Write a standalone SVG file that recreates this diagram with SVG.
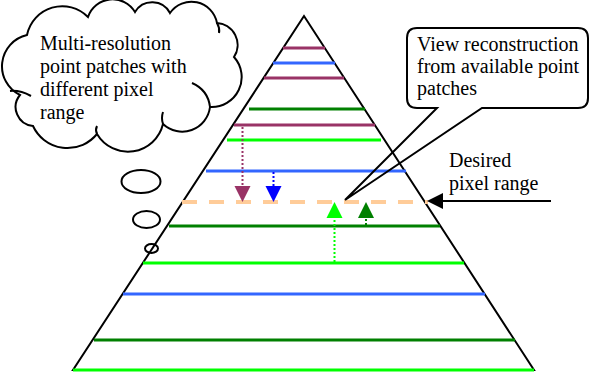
<svg xmlns="http://www.w3.org/2000/svg" width="589" height="375" viewBox="0 0 589 375">
<defs>
<style>
.t{font-family:'Liberation Serif','Times New Roman',serif;font-size:20px;fill:#000}
.o{fill:none;stroke:#000;stroke-width:2}
.lv{stroke-width:3;fill:none}
.m{stroke:#993366}.b{stroke:#3366ff}.g{stroke:#00ff00}.dg{stroke:#008000}
.dot{stroke-width:2;stroke-dasharray:2 2;fill:none}
</style>
</defs>
<rect width="589" height="375" fill="#fff"/>
<g id="pyramid">
<polygon class="o" points="304,16 73,370 534,370"/>
<g id="levels">
<line class="lv m" x1="283" y1="48" x2="325" y2="48"/>
<line class="lv b" x1="273" y1="63" x2="335" y2="63"/>
<line class="lv m" x1="264" y1="78" x2="344" y2="78"/>
<line class="lv dg" x1="249" y1="109" x2="365" y2="109"/>
<line class="lv m" x1="234" y1="125" x2="375" y2="125"/>
<line class="lv g" x1="227" y1="140" x2="381" y2="140"/>
<line class="lv b" x1="206" y1="171" x2="406" y2="171"/>
<line class="lv dg" x1="169" y1="226" x2="440" y2="226"/>
<line class="lv g" x1="143" y1="263" x2="464" y2="263"/>
<line class="lv b" x1="123" y1="294" x2="485" y2="294"/>
<line class="lv dg" x1="94" y1="340" x2="515" y2="340"/>
<line class="lv g" x1="73" y1="370" x2="534" y2="370"/>
</g>
<line id="desired-range" x1="182" y1="202" x2="428" y2="202" stroke="#ffcc99" stroke-width="4" stroke-dasharray="15 12"/>
</g>
<g id="connectors">
<line class="dot m" x1="242.5" y1="127" x2="242.5" y2="187"/>
<polygon fill="#993366" points="234.5,186 250.5,186 242.5,202"/>
<line class="dot" stroke="#0000ff" x1="273.5" y1="172" x2="273.5" y2="187"/>
<polygon fill="#0000ff" points="265.5,186 281.5,186 273.5,202"/>
<line class="dot g" x1="334.5" y1="262" x2="334.5" y2="216"/>
<polygon fill="#00ff00" points="326.5,218 342.5,218 334.5,202"/>
<line class="dot dg" x1="366" y1="225" x2="366" y2="216"/>
<polygon fill="#008000" points="358,218 374,218 366,202"/>
<line class="o" x1="551" y1="201" x2="442" y2="201"/>
<polygon fill="#000" points="427,201 443,193 443,209"/>
</g>
<g id="cloud">
<path class="o" d="M20,95 A32,32 0 0 1 27,35 A36,36 0 0 1 88,17 A26,26 0 0 1 135,12 A20,20 0 0 1 170,13 A26,26 0 0 1 217,23 A22,22 0 0 1 234,57 A30,30 0 0 1 210,107 A28,28 0 0 1 163,124 A36,36 0 0 1 97,134 A38,38 0 0 1 33,126 A19,19 0 0 1 20,95 Z"/>
<path class="o" d="M10,91 Q20,90 31,96"/>
<path class="o" d="M192,83 Q208,90 210,107"/>
<path class="o" d="M163,124 Q161,118 163,112"/>
<path class="o" d="M97,134 Q95,130 97,126"/>
<path class="o" d="M217,23 Q220,28 219,33"/>
<g font-family="Liberation Serif, serif" font-size="20">
<text class="t" x="40" y="50">Multi-resolution</text>
<text class="t" x="40" y="73">point patches with</text>
<text class="t" x="40" y="96">different pixel</text>
<text class="t" x="40" y="119">range</text>
</g>
</g>
<g id="thought-bubbles">
<ellipse class="o" cx="141" cy="181.5" rx="19.5" ry="11.5"/>
<ellipse class="o" cx="146.5" cy="219.5" rx="13.5" ry="8.5"/>
<ellipse class="o" cx="151.5" cy="248.5" rx="6.5" ry="4.5"/>
</g>
<g id="callout">
<path class="o" d="M417,28 H578 Q588,28 588,38 V98 Q588,108 578,108 H482 L345,200 L437,108 H417 Q407,108 407,98 V38 Q407,28 417,28 Z"/>
<g font-family="Liberation Serif, serif" font-size="20">
<text class="t" x="417" y="51">View reconstruction</text>
<text class="t" x="417" y="73">from available point</text>
<text class="t" x="417" y="95">patches</text>
</g>
</g>
<g id="desired-label" font-family="Liberation Serif, serif" font-size="20">
<text class="t" x="449" y="167">Desired</text>
<text class="t" x="449" y="190">pixel range</text>
</g>
</svg>
